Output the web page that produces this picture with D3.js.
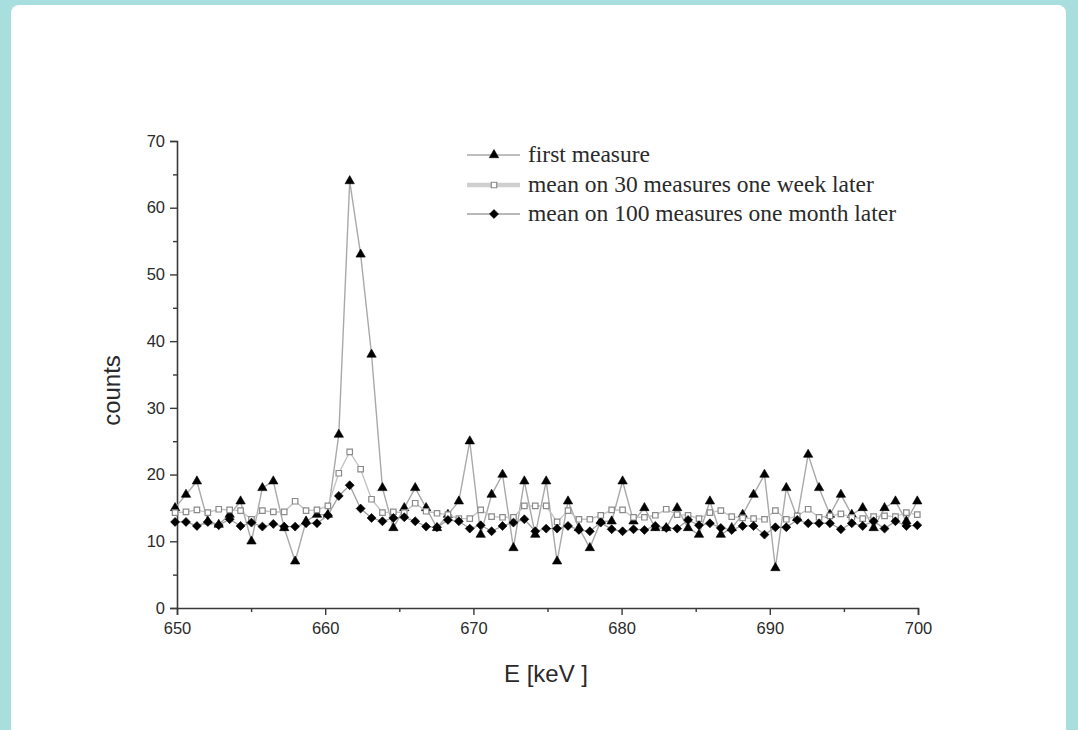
<!DOCTYPE html>
<html>
<head>
<meta charset="utf-8">
<script src="https://cdn.jsdelivr.net/npm/d3@7/dist/d3.min.js"></script>
<style>
  html, body { margin: 0; padding: 0; background: #a8dedd; }
  svg { display: block; }
</style>
</head>
<body>
<svg id="chart" width="1078" height="730"></svg>
<script>
// ---- data ----
// channel calibration: energy of channel 0 and channel width (keV)
const channelStart = 649.87;
const channelWidth = 0.7365;

const firstMeasure = [15, 17, 19, 13, 12.5, 14, 16, 10, 18, 19, 12, 7, 13, 14, 14, 26, 64, 53, 38, 18,
  12, 15, 18, 15, 12, 14, 16, 25, 11, 17, 20, 9, 19, 11, 19, 7, 16, 12, 9, 13,
  13, 19, 13, 15, 12, 12, 15, 12, 11, 16, 11, 12, 14, 17, 20, 6, 18, 13.5, 23, 18,
  14, 17, 14, 15, 12, 15, 16, 13, 16];

const meanWeek = [14.3, 14.4, 14.7, 14.3, 14.8, 14.7, 14.6, 13.3, 14.6, 14.4, 14.4, 16, 14.6, 14.7, 15.3, 20.2, 23.4, 20.8, 16.3, 14.3,
  14.4, 14.3, 15.7, 14.5, 14.2, 14, 13.4, 13.4, 14.7, 13.7, 13.6, 13.6, 15.3, 15.3, 15.3, 12.9, 14.6, 13.3, 13.3, 13.9,
  14.7, 14.7, 13.6, 13.6, 13.9, 14.8, 14, 13.9, 13.4, 14.3, 14.6, 13.7, 13.5, 13.4, 13.3, 14.6, 13.3, 13.8, 14.8, 13.6,
  13.8, 14.1, 13.6, 13.4, 13.7, 13.8, 13.7, 14.3, 14];

const meanMonth = [12.9, 12.9, 12.3, 12.9, 12.4, 13.3, 12.3, 12.8, 12.2, 12.6, 12.2, 12.2, 12.7, 12.7, 13.9, 16.8, 18.4, 14.9, 13.5, 13,
  13.5, 13.6, 13, 12.2, 12.1, 13.2, 13, 11.9, 12.4, 11.5, 12.3, 12.8, 13.3, 11.5, 11.9, 11.9, 12.3, 11.7, 11.5, 12.8,
  11.8, 11.5, 11.8, 11.7, 12.3, 12, 11.9, 13.2, 12.4, 12.7, 12, 11.7, 12.3, 12.3, 11, 12.1, 12.1, 13.2, 12.7, 12.7,
  12.7, 11.8, 12.7, 12.3, 13, 11.9, 13, 12.3, 12.4];

const seriesNames = ["first measure", "mean on 30 measures one week later", "mean on 100 measures one month later"];
const xTicks = [650, 660, 670, 680, 690, 700];
const xMinorTicks = [655, 665, 675, 685, 695];
const yTicks = [0, 10, 20, 30, 40, 50, 60, 70];
const yMinorTicks = [5, 15, 25, 35, 45, 55, 65];
const xTitle = "E [keV ]";
const yTitle = "counts";

// ---- drawing ----
const svg = d3.select("#chart");

// slide background
svg.append("rect").attr("x", 0).attr("y", 0).attr("width", 1078).attr("height", 730).attr("fill", "#a8dedd");
svg.append("rect").attr("x", 11).attr("y", 5).attr("width", 1055).attr("height", 740).attr("rx", 8).attr("fill", "#ffffff");

const x = d3.scaleLinear().domain([650, 700]).range([177, 918]);
const y = d3.scaleLinear().domain([0, 70]).range([608, 141]);

const energies = firstMeasure.map((_, i) => channelStart + i * channelWidth);
const axisColor = "#3a3a3a";

// y axis
svg.append("g").attr("transform", `translate(${x(650)},0)`)
  .call(d3.axisLeft(y).tickValues(yTicks).tickSize(7).tickPadding(5).tickFormat(d3.format("d")));
svg.append("g").attr("transform", `translate(${x(650)},0)`)
  .call(d3.axisLeft(y).tickValues(yMinorTicks).tickSize(4).tickFormat(""))
  .call(g => g.select(".domain").remove());

// x axis
svg.append("g").attr("transform", `translate(0,${y(0)})`)
  .call(d3.axisBottom(x).tickValues(xTicks).tickSize(7).tickPadding(7).tickFormat(d3.format("d")));
svg.append("g").attr("transform", `translate(0,${y(0)})`)
  .call(d3.axisBottom(x).tickValues(xMinorTicks).tickSize(4).tickFormat(""))
  .call(g => g.select(".domain").remove());

svg.selectAll(".domain").attr("stroke", axisColor).attr("stroke-width", 1.6);
svg.selectAll(".tick line").attr("stroke", axisColor).attr("stroke-width", 1.4);
svg.selectAll(".tick text")
  .attr("fill", "#2a2a2a")
  .style("font-family", "'Liberation Sans', Arial, sans-serif")
  .style("font-size", "16.5px");

// axis titles
svg.append("text")
  .attr("transform", `translate(120,${(y(0) + y(70)) / 2 + 16}) rotate(-90)`)
  .attr("text-anchor", "middle")
  .attr("fill", "#2a2a2a")
  .style("font-family", "'Liberation Sans', Arial, sans-serif")
  .style("font-size", "24px")
  .text(yTitle);

svg.append("text")
  .attr("x", 546).attr("y", 682)
  .attr("text-anchor", "middle")
  .attr("fill", "#2a2a2a")
  .style("font-family", "'Liberation Sans', Arial, sans-serif")
  .style("font-size", "24px")
  .text(xTitle);

// series
const triSym = d3.symbol().type(d3.symbolTriangle).size(38);
const sqSym = d3.symbol().type(d3.symbolSquare).size(30);
const diaSym = d3.symbol().type(d3.symbolSquare).size(40); // rotated 45deg below

const line = d3.line().x((d, i) => x(energies[i])).y(d => y(d));

function drawSeries(values, lineColor, lineWidth, sym, rot, fill, stroke, strokeWidth) {
  const g = svg.append("g");
  g.append("path").datum(values)
    .attr("d", line)
    .attr("fill", "none")
    .attr("stroke", lineColor)
    .attr("stroke-width", lineWidth);
  g.selectAll("path.m").data(values).enter().append("path")
    .attr("class", "m")
    .attr("d", sym)
    .attr("transform", (d, i) => `translate(${x(energies[i])},${y(d)}) rotate(${rot})`)
    .attr("fill", fill)
    .attr("stroke", stroke)
    .attr("stroke-width", strokeWidth);
}

drawSeries(firstMeasure, "#a9a9a9", 1.4, triSym, 0, "#000", "#000", 0.6);
drawSeries(meanWeek, "#c4c4c4", 1.4, sqSym, 0, "#fff", "#8a8a8a", 1.2);
drawSeries(meanMonth, "#a0a0a0", 1.3, diaSym, 45, "#000", "#000", 0.6);

// legend
const legendRows = [
  { name: seriesNames[0], sym: triSym, rot: 0, fill: "#000", stroke: "#000", sw: 0.6, lc: "#a9a9a9", lw: 1.5, y: 155 },
  { name: seriesNames[1], sym: sqSym, rot: 0, fill: "#fff", stroke: "#8a8a8a", sw: 1.2, lc: "#cfcfcf", lw: 4.5, y: 185 },
  { name: seriesNames[2], sym: diaSym, rot: 45, fill: "#000", stroke: "#000", sw: 0.6, lc: "#a0a0a0", lw: 1.5, y: 214 }
];
const lg = svg.append("g");
legendRows.forEach(r => {
  lg.append("line").attr("x1", 467).attr("x2", 520).attr("y1", r.y).attr("y2", r.y)
    .attr("stroke", r.lc).attr("stroke-width", r.lw);
  lg.append("path").attr("d", r.sym).attr("transform", `translate(494,${r.y}) rotate(${r.rot})`)
    .attr("fill", r.fill).attr("stroke", r.stroke).attr("stroke-width", r.sw);
  lg.append("text").attr("x", 528).attr("y", r.y + 7)
    .attr("fill", "#2a2a2a")
    .style("font-family", "'Liberation Serif', 'Times New Roman', serif")
    .style("font-size", "23.5px")
    .text(r.name);
});
</script>
</body>
</html>
